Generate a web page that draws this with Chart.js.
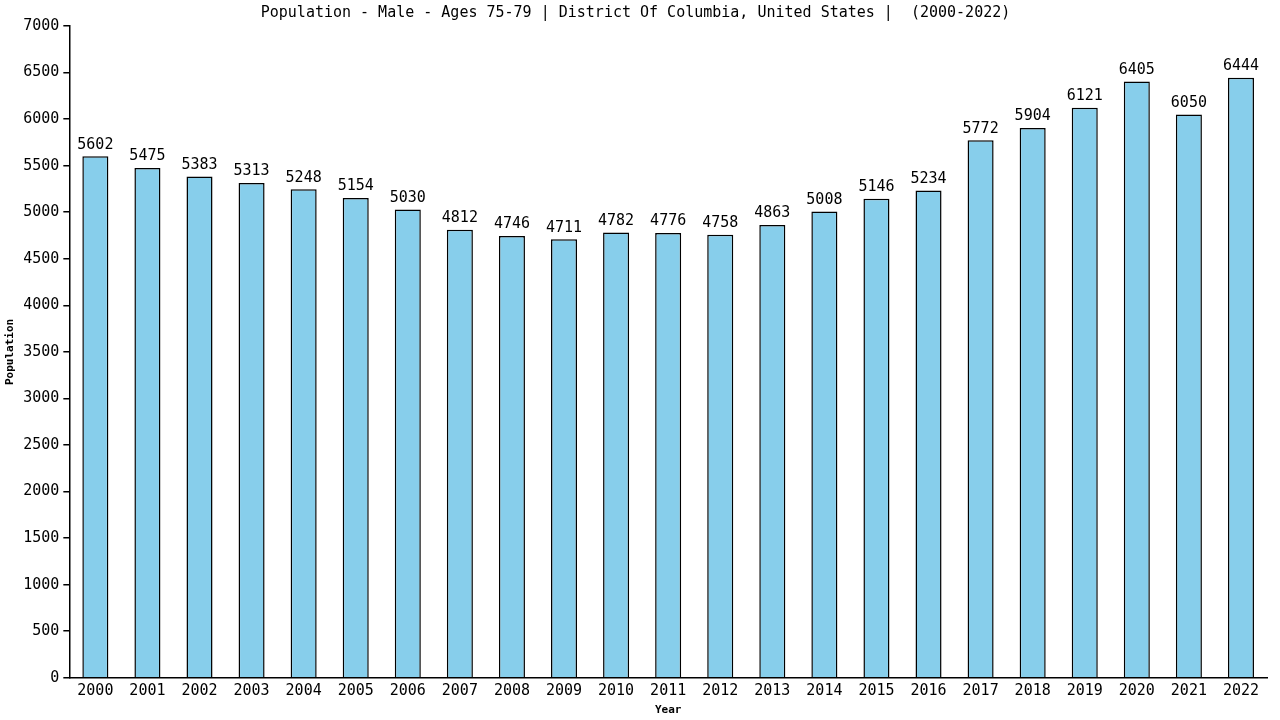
<!DOCTYPE html>
<html><head><meta charset="utf-8">
<script src="https://cdn.jsdelivr.net/npm/chart.js@4/dist/chart.umd.min.js"></script>
<style>html,body{margin:0;padding:0;background:#fff}#wrap{width:1280px;height:720px}</style>
</head><body><div id="wrap"><canvas id="c" width="1280" height="720"></canvas></div>
<script>
const years = ["2000","2001","2002","2003","2004","2005","2006","2007","2008","2009","2010","2011","2012","2013","2014","2015","2016","2017","2018","2019","2020","2021","2022"];
const population = [5602,5475,5383,5313,5248,5154,5030,4812,4746,4711,4782,4776,4758,4863,5008,5146,5234,5772,5904,6121,6405,6050,6444];
const titleText = "Population - Male - Ages 75-79 | District Of Columbia, United States |  (2000-2022)";
const FONT = "'DejaVu Sans Mono', monospace";

const valueLabels = {
  id: 'valueLabels',
  afterDatasetsDraw(chart) {
    const ctx = chart.ctx;
    const meta = chart.getDatasetMeta(0);
    ctx.save();
    ctx.font = "15px " + FONT;
    ctx.fillStyle = "#000";
    ctx.textAlign = "center";
    ctx.textBaseline = "bottom";
    meta.data.forEach((bar, i) => {
      ctx.fillText(String(population[i]), bar.x, bar.y - 4);
    });
    ctx.restore();
  }
};

new Chart(document.getElementById('c'), {
  type: 'bar',
  data: { labels: years, datasets: [{ data: population, backgroundColor: '#87CEEB', borderColor: '#000', borderWidth: {top:1.5,left:1.5,right:1.5,bottom:0}, barPercentage: 0.5, categoryPercentage: 1.0 }] },
  options: {
    responsive: false, animation: false, devicePixelRatio: 1,
    layout: { padding: { left: 4, right: 13, top: 0, bottom: 3 } },
    plugins: {
      legend: { display: false }, tooltip: { enabled: false },
      title: { display: true, text: titleText, color: '#000', font: { family: FONT, size: 15, weight: 'normal' }, padding: { top: 4, bottom: 4 } }
    },
    scales: {
      x: {
        grid: { display: false, drawTicks: false },
        border: { display: true, color: '#000', width: 1.5 },
        ticks: { color: '#000', font: { family: FONT, size: 15 }, maxRotation: 0, padding: 4 },
        title: { display: true, text: 'Year', color: '#000', font: { family: FONT, size: 11, weight: 'bold' }, padding: { top: 0, bottom: 0 } }
      },
      y: {
        min: 0, max: 7000,
        grid: { display: true, drawOnChartArea: false, drawTicks: true, tickLength: 6, color: '#000', lineWidth: 1.5 },
        border: { display: true, color: '#000', width: 1.5 },
        ticks: { stepSize: 500, color: '#000', font: { family: FONT, size: 15 }, padding: 4, callback: (v) => String(v) },
        title: { display: true, text: 'Population', color: '#000', font: { family: FONT, size: 11, weight: 'bold' }, padding: { top: 0, bottom: 2 } }
      }
    }
  },
  plugins: [valueLabels]
});
</script></body></html>
